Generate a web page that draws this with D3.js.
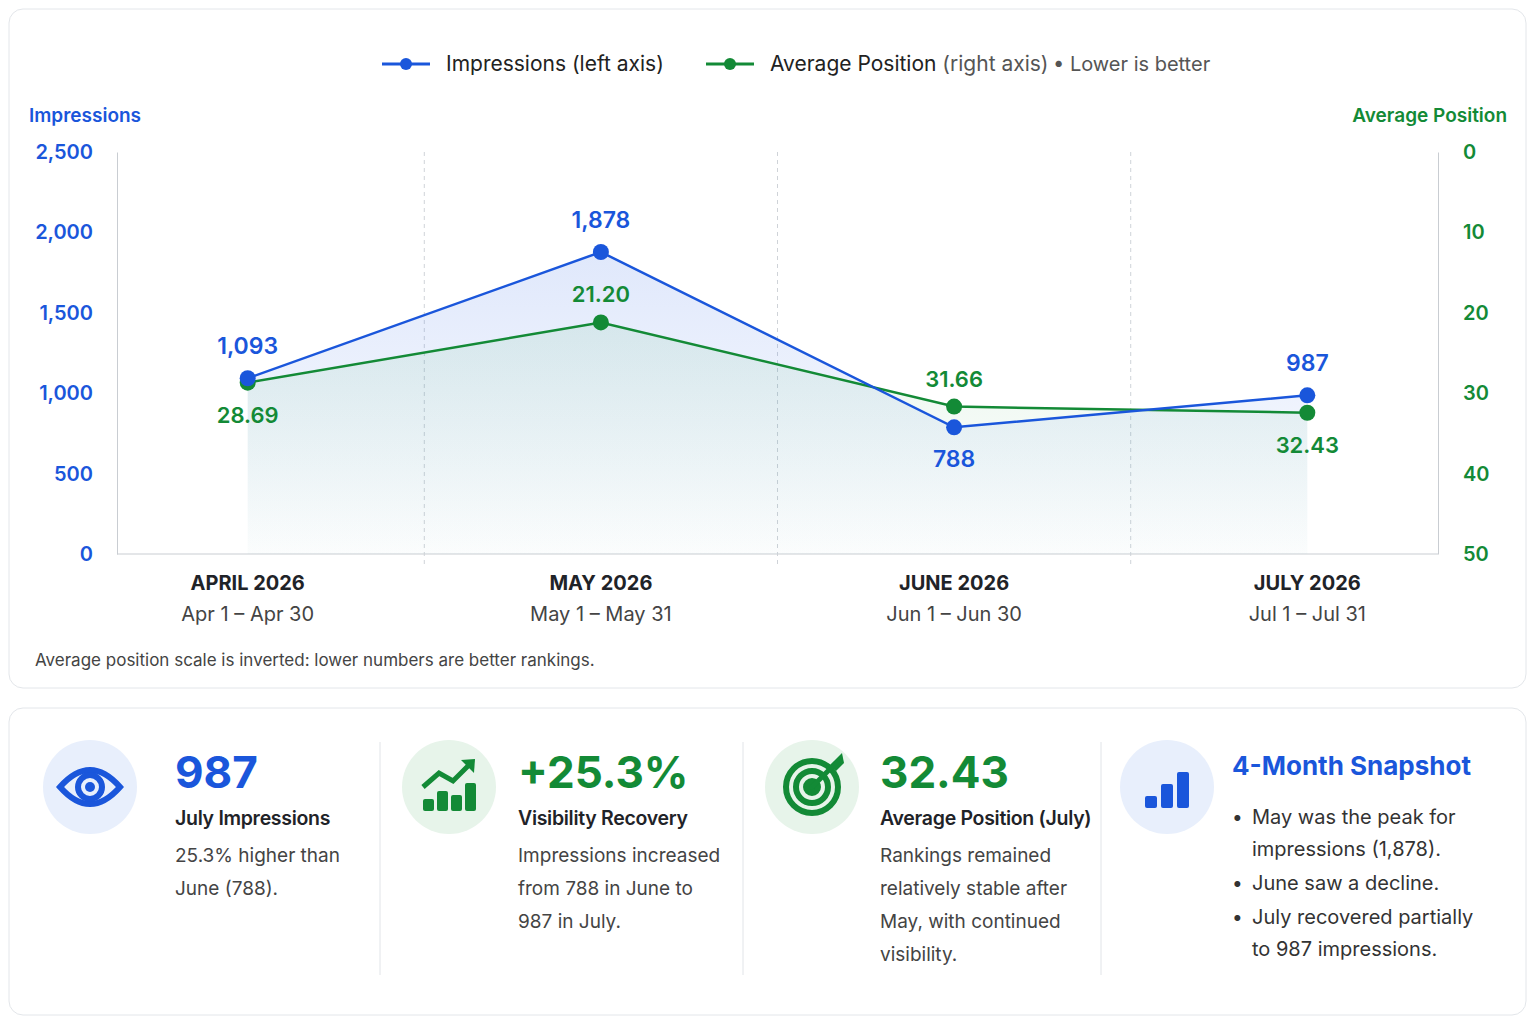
<!DOCTYPE html>
<html><head><meta charset="utf-8">
<script src="https://cdn.jsdelivr.net/npm/d3@7"></script>
<style>
body{margin:0;background:#fff;font-family:Inter,"Noto Sans",sans-serif;}
svg text{font-family:Inter,"Noto Sans",sans-serif;}
</style></head><body>
<svg id="c" width="1536" height="1024"></svg>
<script>
const months = ['APRIL 2026', 'MAY 2026', 'JUNE 2026', 'JULY 2026'];
const ranges = ['Apr 1 – Apr 30', 'May 1 – May 31', 'Jun 1 – Jun 30', 'Jul 1 – Jul 31'];
const impressions = [1093, 1878, 788, 987];
const positions = [28.69, 21.20, 31.66, 32.43];
const leftTicks = [0, 500, 1000, 1500, 2000, 2500];
const rightTicks = [0, 10, 20, 30, 40, 50];

const BLUE = '#1a56db', GREEN = '#138a36';
const svg = d3.select('#c');
const defs = svg.append('defs');
const g1 = defs.append('linearGradient').attr('id', 'gb').attr('x1', 0).attr('y1', 0).attr('x2', 0).attr('y2', 1);
g1.append('stop').attr('offset', 0).attr('stop-color', '#3b6fe8').attr('stop-opacity', 0.16);
g1.append('stop').attr('offset', 1).attr('stop-color', '#3b6fe8').attr('stop-opacity', 0.01);
const g2 = defs.append('linearGradient').attr('id', 'gg').attr('x1', 0).attr('y1', 0).attr('x2', 0).attr('y2', 1);
g2.append('stop').attr('offset', 0).attr('stop-color', '#2aa84a').attr('stop-opacity', 0.09);
g2.append('stop').attr('offset', 1).attr('stop-color', '#2aa84a').attr('stop-opacity', 0.01);

// cards
svg.append('rect').attr('x', 9).attr('y', 9).attr('width', 1517).attr('height', 679).attr('rx', 14)
  .attr('fill', '#fff').attr('stroke', '#e3e6ea');
svg.append('rect').attr('x', 9).attr('y', 708).attr('width', 1517).attr('height', 307).attr('rx', 14)
  .attr('fill', '#fff').attr('stroke', '#e3e6ea');

const L = 117, R = 1438, T = 152, B = 554;
const x = d3.scalePoint().domain(months).range([L, R]).padding(0.37);
const yL = d3.scaleLinear().domain([0, 2500]).range([B, T]);
const yR = d3.scaleLinear().domain([0, 50]).range([T, B]);

// legend
const lg = svg.append('g');
[[382, BLUE, 'Impressions (left axis)', ''], [706, GREEN, 'Average Position', ' (right axis)']].forEach(([lx, c, t, s]) => {
  lg.append('line').attr('x1', lx).attr('x2', lx + 48).attr('y1', 64).attr('y2', 64).attr('stroke', c).attr('stroke-width', 3);
  lg.append('circle').attr('cx', lx + 24).attr('cy', 64).attr('r', 6).attr('fill', c);
  const tx = lg.append('text').attr('x', lx + 64).attr('y', 71).attr('font-size', 21).attr('fill', '#222');
  tx.append('tspan').text(t);
  if (s) tx.append('tspan').attr('fill', '#555').text(s);
});
lg.append('text').attr('x', 1053).attr('y', 71).attr('font-size', 20).attr('fill', '#555').text('•  Lower is better');

// axis titles
svg.append('text').attr('x', 29).attr('y', 122).attr('font-size', 19).attr('font-weight', 600).attr('fill', BLUE).text('Impressions');
svg.append('text').attr('x', 1507).attr('y', 122).attr('text-anchor', 'end').attr('font-size', 19).attr('font-weight', 600).attr('fill', GREEN).text('Average Position');

// axes
const ax = svg.append('g').attr('transform', `translate(${L},0)`)
  .call(d3.axisLeft(yL).tickValues(leftTicks).tickFormat(d3.format(',')).tickSize(0).tickPadding(24));
ax.select('.domain').attr('stroke', '#c9cdd2');
ax.selectAll('text').attr('font-size', 20).attr('font-weight', 600).attr('fill', BLUE);
const ar = svg.append('g').attr('transform', `translate(${R},0)`)
  .call(d3.axisRight(yR).tickValues(rightTicks).tickSize(0).tickPadding(25));
ar.select('.domain').attr('stroke', '#c9cdd2');
ar.selectAll('text').attr('font-size', 20).attr('font-weight', 600).attr('fill', GREEN);
svg.append('line').attr('x1', L).attr('x2', R).attr('y1', B).attr('y2', B).attr('stroke', '#c9cdd2');

// dashed separators
for (let i = 0; i < months.length - 1; i++) {
  const sx = (x(months[i]) + x(months[i + 1])) / 2;
  svg.append('line').attr('x1', sx).attr('x2', sx).attr('y1', T).attr('y2', B + 10)
    .attr('stroke', '#cfd3d8').attr('stroke-dasharray', '4,4');
}

const areaI = d3.area().x((d, i) => x(months[i])).y0(B).y1(d => yL(d));
const areaP = d3.area().x((d, i) => x(months[i])).y0(B).y1(d => yR(d));
svg.append('path').datum(impressions).attr('d', areaI).attr('fill', 'url(#gb)');
svg.append('path').datum(positions).attr('d', areaP).attr('fill', 'url(#gg)');
const lineI = d3.line().x((d, i) => x(months[i])).y(d => yL(d));
const lineP = d3.line().x((d, i) => x(months[i])).y(d => yR(d));
svg.append('path').datum(positions).attr('d', lineP).attr('fill', 'none').attr('stroke', GREEN).attr('stroke-width', 2.5);
svg.append('path').datum(impressions).attr('d', lineI).attr('fill', 'none').attr('stroke', BLUE).attr('stroke-width', 2.5);

svg.selectAll('.pp').data(positions).enter().append('circle')
  .attr('cx', (d, i) => x(months[i])).attr('cy', d => yR(d)).attr('r', 8).attr('fill', GREEN);
svg.selectAll('.pi').data(impressions).enter().append('circle')
  .attr('cx', (d, i) => x(months[i])).attr('cy', d => yL(d)).attr('r', 8).attr('fill', BLUE);
// impression labels above, except June which sits below its point
svg.selectAll('.li').data(impressions).enter().append('text')
  .attr('x', (d, i) => x(months[i])).attr('y', (d, i) => i === 2 ? yL(d) + 40 : yL(d) - 24).attr('text-anchor', 'middle')
  .attr('font-size', 23).attr('font-weight', 600).attr('fill', BLUE).text(d3.format(','));
// position labels: above for May/June, below for others
svg.selectAll('.lp').data(positions).enter().append('text')
  .attr('x', (d, i) => x(months[i])).attr('y', (d, i) => (i === 1 || i === 2) ? yR(d) - 20 : yR(d) + 40).attr('text-anchor', 'middle')
  .attr('font-size', 22).attr('font-weight', 600).attr('fill', GREEN).text(d => d.toFixed(2));

months.forEach((m, i) => {
  svg.append('text').attr('x', x(m)).attr('y', 590).attr('text-anchor', 'middle').attr('font-size', 20).attr('font-weight', 700).attr('fill', '#1f2328').text(m);
  svg.append('text').attr('x', x(m)).attr('y', 621).attr('text-anchor', 'middle').attr('font-size', 20).attr('fill', '#444').text(ranges[i]);
});
svg.append('text').attr('x', 35).attr('y', 666).attr('font-size', 17).attr('fill', '#444')
  .text('Average position scale is inverted: lower numbers are better rankings.');

// KPI cards
const cards = [
  {cx: 90, tx: 175, big: '987', bc: BLUE, bg: '#e8effc', title: 'July Impressions', lines: ['25.3% higher than', 'June (788).'], icon: 'eye'},
  {cx: 449, tx: 518, big: '+25.3%', bc: GREEN, bg: '#e7f4ea', title: 'Visibility Recovery', lines: ['Impressions increased', 'from 788 in June to', '987 in July.'], icon: 'trend'},
  {cx: 812, tx: 880, big: '32.43', bc: GREEN, bg: '#e7f4ea', title: 'Average Position (July)', lines: ['Rankings remained', 'relatively stable after', 'May, with continued', 'visibility.'], icon: 'target'}
];
[380, 743, 1101].forEach(sx => svg.append('line').attr('x1', sx).attr('x2', sx).attr('y1', 742).attr('y2', 975).attr('stroke', '#e1e4e8'));
cards.forEach(c => {
  svg.append('circle').attr('cx', c.cx).attr('cy', 787).attr('r', 47).attr('fill', c.bg);
  svg.append('text').attr('x', c.tx).attr('y', 788).attr('font-size', 44).attr('font-weight', 700).attr('fill', c.bc).text(c.big);
  svg.append('text').attr('x', c.tx).attr('y', 825).attr('font-size', 19.5).attr('font-weight', 600).attr('letter-spacing', -0.3).attr('fill', '#1f2328').text(c.title);
  c.lines.forEach((l, j) => svg.append('text').attr('x', c.tx).attr('y', 862 + j * 33).attr('font-size', 19).attr('fill', '#444').text(l));
  const ig = svg.append('g').attr('transform', `translate(${c.cx},787)`);
  if (c.icon === 'eye') {
    ig.append('path').attr('d', 'M-30,0 Q0,-34 30,0 Q0,34 -30,0Z').attr('fill', 'none').attr('stroke', BLUE).attr('stroke-width', 6);
    ig.append('circle').attr('r', 12).attr('fill', 'none').attr('stroke', BLUE).attr('stroke-width', 6);
    ig.append('circle').attr('r', 5).attr('fill', BLUE);
  } else if (c.icon === 'trend') {
    [[-26, 0, 12], [-12, -8, 20], [2, -4, 16], [16, -16, 28]].forEach(([bx, by, h]) =>
      ig.append('rect').attr('x', bx).attr('y', 24 - h).attr('width', 11).attr('height', h).attr('rx', 2).attr('fill', GREEN));
    ig.append('path').attr('d', 'M-26,0 L-10,-14 L4,-6 L22,-24').attr('fill', 'none').attr('stroke', GREEN).attr('stroke-width', 5);
    ig.append('path').attr('d', 'M12,-27 L26,-28 L25,-14Z').attr('fill', GREEN);
  } else {
    [26, 16, 6].forEach((r, k) => ig.append('circle').attr('r', r).attr('fill', k === 2 ? GREEN : 'none').attr('stroke', GREEN).attr('stroke-width', 6));
    ig.append('line').attr('x1', 0).attr('y1', 0).attr('x2', 24).attr('y2', -24).attr('stroke', GREEN).attr('stroke-width', 5);
    ig.append('path').attr('d', 'M18,-22 L30,-34 L32,-24 L24,-16Z').attr('fill', GREEN);
  }
});
// snapshot
svg.append('circle').attr('cx', 1167).attr('cy', 787).attr('r', 47).attr('fill', '#e8effc');
[[-22, 12], [-6, 24], [10, 36]].forEach(([bx, h]) =>
  svg.append('rect').attr('x', 1167 + bx).attr('y', 808 - h).attr('width', 12).attr('height', h).attr('rx', 2).attr('fill', BLUE));
svg.append('text').attr('x', 1232).attr('y', 775).attr('font-size', 26).attr('font-weight', 700).attr('fill', BLUE).text('4-Month Snapshot');
const bullets = [['May was the peak for', 'impressions (1,878).'], ['June saw a decline.'], ['July recovered partially', 'to 987 impressions.']];
let by = 824;
bullets.forEach(b => {
  svg.append('text').attr('x', 1232).attr('y', by).attr('font-size', 19).attr('fill', '#333').text('•');
  b.forEach((l, j) => svg.append('text').attr('x', 1252).attr('y', by + j * 32).attr('font-size', 20).attr('fill', '#333').text(l));
  by += b.length * 32 + 2;
});
</script></body></html>
